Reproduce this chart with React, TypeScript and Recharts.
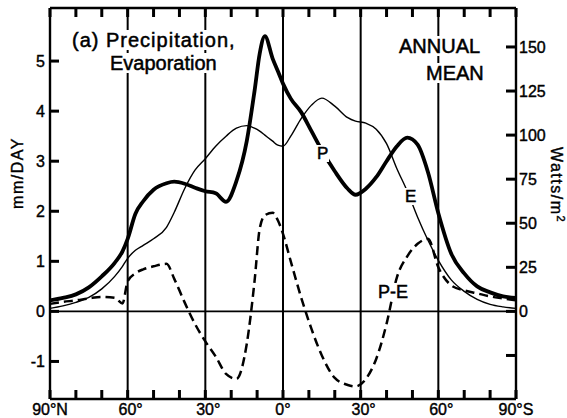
import { LineChart, Line, XAxis, YAxis, ReferenceLine } from "recharts"

// latitude, north positive
const lats = [90, 85, 80, 75, 70, 65, 62, 60, 57, 54, 50, 45, 42, 38, 34, 30, 26, 22, 18, 14, 11, 9, 7, 4, 2, 0,
  -3, -7, -11, -15, -20, -25, -28, -32, -36, -40, -44, -48, -52, -56, -60, -65, -70, -75, -80, -85, -90]

// mm/day
const precip = [0.22, 0.27, 0.34, 0.48, 0.7, 0.97, 1.2, 1.45, 1.95, 2.2, 2.43, 2.56, 2.59, 2.55, 2.47, 2.4, 2.36, 2.19, 2.6, 3.4, 4.4, 5.15, 5.5, 5.05, 4.8, 4.55,
  4.25, 3.98, 3.6, 3.22, 2.8, 2.45, 2.33, 2.45, 2.68, 3.0, 3.3, 3.47, 3.33, 2.78, 1.96, 1.15, 0.76, 0.5, 0.38, 0.3, 0.27]
const evap = [0.06, 0.11, 0.18, 0.28, 0.45, 0.7, 0.9, 1.06, 1.22, 1.32, 1.45, 1.68, 1.98, 2.45, 2.82, 3.05, 3.3, 3.5, 3.66, 3.71, 3.66, 3.6, 3.52, 3.4, 3.32, 3.3,
  3.5, 3.85, 4.12, 4.26, 4.1, 3.87, 3.8, 3.76, 3.64, 3.35, 2.85, 2.4, 1.88, 1.42, 1.02, 0.63, 0.4, 0.24, 0.14, 0.09, 0.06]
const pMinusE = [0.15, 0.19, 0.22, 0.26, 0.29, 0.27, 0.16, 0.6, 0.76, 0.84, 0.9, 0.95, 0.65, 0.18, -0.25, -0.6, -0.9, -1.25, -1.35, -0.65, 0.6, 1.65, 1.92, 1.97, 1.82, 1.55,
  1.0, 0.28, -0.35, -0.88, -1.33, -1.47, -1.5, -1.35, -0.95, -0.25, 0.68, 1.1, 1.35, 1.45, 0.88, 0.52, 0.42, 0.36, 0.3, 0.26, 0.22]

const latTicks = [90, 80, 70, 60, 50, 40, 30, 20, 10, 0, -10, -20, -30, -40, -50, -60, -70, -80, -90]
const latLabels: Record<number, string> = { 90: "90°N", 60: "60°", 30: "30°", 0: "0°", [-30]: "30°", [-60]: "60°", [-90]: "90°S" }
const gridLats = [60, 30, 0, -30, -60]
const mmTicks = [-1, 0, 1, 2, 3, 4, 5]
const wattTicks = [-25, 0, 25, 50, 75, 100, 125, 150]

const rows = lats.map((lat, i) => ({ lat, p: precip[i], e: evap[i], pe: pMinusE[i] }))

const ink = "#000"
const font = "'Liberation Sans', Arial, sans-serif"
const axisLine = { stroke: ink, strokeWidth: 2.4 }
const tickW = 3

// tick marks point into the plot; labels sit outside
const LeftTick = ({ x, y, payload }: any) => (
  <g>
    <path d={`M${x + 5},${y}h9`} stroke={ink} strokeWidth={tickW} fill="none" />
    <text x={x} y={y} dy={6} textAnchor="end" fontSize={16} fontFamily={font} fill={ink} stroke={ink} strokeWidth={0.4}>
      {payload.value}
    </text>
  </g>
)

const RightTick = ({ x, y, payload }: any) => (
  <g>
    <path d={`M${x - 3},${y}h-10`} stroke={ink} strokeWidth={tickW} fill="none" />
    <text x={x} y={y} dy={6} textAnchor="start" fontSize={16} fontFamily={font} fill={ink} stroke={ink} strokeWidth={0.4}>
      {payload.value < 0 ? "" : payload.value}
    </text>
  </g>
)

const BottomTick = ({ x, y, payload }: any) => {
  const label = latLabels[payload.value]
  const shift = label && label.endsWith("°") && payload.value !== 0 ? 3 : 0
  return (
    <g>
      <path d={`M${x},${y - 4}v-9`} stroke={ink} strokeWidth={tickW} fill="none" />
      {label && (
        <text x={x + shift} y={y} dy={12} textAnchor="middle" fontSize={16} fontFamily={font} fill={ink} stroke={ink} strokeWidth={0.4}>
          {label}
        </text>
      )}
    </g>
  )
}

const TopTick = ({ x, y }: any) => (
  <path d={`M${x},${y}v9`} stroke={ink} strokeWidth={tickW} fill="none" />
)

const boxed = (left: number, top: number, size: number, text: string, extra: any = {}) => (
  <div style={{
    position: "absolute", left, top, fontSize: size, lineHeight: `${size}px`, fontFamily: font,
    color: ink, background: "#fff", padding: "0 1px", whiteSpace: "nowrap",
    WebkitTextStroke: "0.5px #000", ...extra
  }}>{text}</div>
)

export default function App() {
  return (
    <div style={{ position: "absolute", left: 0, top: 0, width: 567, height: 418, background: "#fff" }}>
      <LineChart width={567} height={418} data={rows} margin={{ top: 7, right: 0, bottom: 0, left: 0 }}>
        <XAxis dataKey="lat" type="number" domain={[-90, 90]} reversed ticks={latTicks} interval={0}
          height={19} tickSize={0} tickMargin={4} tick={<BottomTick />} tickLine={false} axisLine={axisLine} />
        <XAxis xAxisId="top" dataKey="lat" type="number" domain={[-90, 90]} reversed orientation="top"
          ticks={latTicks} interval={0} height={1} tickSize={0} tickMargin={0} tick={<TopTick />}
          tickLine={false} axisLine={axisLine} />
        <YAxis type="number" domain={[-1.75, 6.06]} allowDataOverflow ticks={mmTicks} interval={0}
          width={50} tickSize={0} tickMargin={5} tick={<LeftTick />} tickLine={false} axisLine={axisLine} />
        <YAxis yAxisId="w" orientation="right" type="number" domain={[-49.7, 172.1]} allowDataOverflow
          ticks={wattTicks} interval={0} width={51} tickSize={0} tickMargin={3} tick={<RightTick />}
          tickLine={false} axisLine={axisLine} />
        {gridLats.map((g) => (
          <ReferenceLine key={g} x={g} stroke={ink} strokeWidth={2} />
        ))}
        <ReferenceLine y={0} stroke={ink} strokeWidth={1.8} />
        <Line dataKey="e" type="monotone" stroke={ink} strokeWidth={1.4} dot={false} activeDot={false} isAnimationActive={false} />
        <Line dataKey="pe" type="monotone" stroke={ink} strokeWidth={2.5} strokeDasharray="9 5" dot={false} activeDot={false} isAnimationActive={false} />
        <Line dataKey="p" type="monotone" stroke={ink} strokeWidth={3.8} dot={false} activeDot={false} isAnimationActive={false} />
      </LineChart>

      {boxed(71, 30, 20, "(a) Precipitation,", { letterSpacing: 1 })}
      {boxed(109, 53, 20, "Evaporation")}
      {boxed(398, 36, 20, "ANNUAL")}
      {boxed(425, 63, 20, "MEAN")}
      {boxed(316, 145, 17, "P")}
      {boxed(404, 188, 17, "E")}
      {boxed(377, 283, 18, "P-E")}

      <div style={{
        position: "absolute", left: 18, top: 173, transform: "translate(-50%, -50%) rotate(-90deg)",
        fontSize: 16, fontFamily: font, color: ink, whiteSpace: "nowrap", letterSpacing: 1.5,
        WebkitTextStroke: "0.4px #000"
      }}>mm/DAY</div>
      <div style={{
        position: "absolute", left: 557, top: 185, transform: "translate(-50%, -50%) rotate(90deg)",
        fontSize: 16, fontFamily: font, color: ink, whiteSpace: "nowrap", letterSpacing: 1.5,
        WebkitTextStroke: "0.4px #000"
      }}>Watts/m<sup style={{ fontSize: 11 }}>2</sup></div>
    </div>
  )
}
